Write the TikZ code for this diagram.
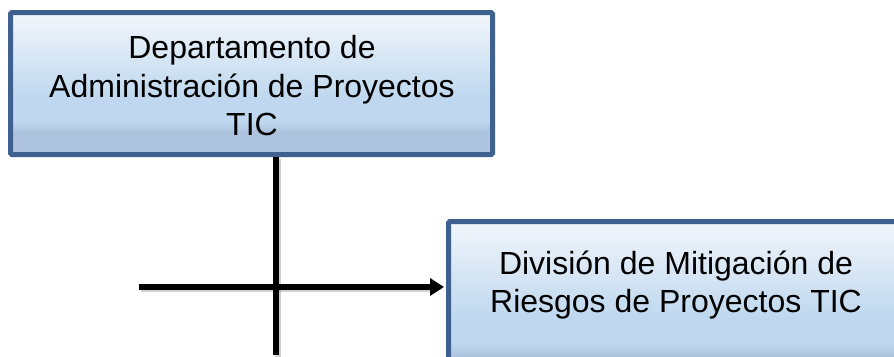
\documentclass[tikz,border=0pt]{standalone}
\usepackage{fontspec}
\setmainfont{Liberation Sans}
\usetikzlibrary{arrows.meta,shadows}
\definecolor{bordblue}{HTML}{3F6190}
\definecolor{shA}{HTML}{F2F6FB}
\definecolor{shB}{HTML}{BFD8EF}
\definecolor{shC}{HTML}{AEC4DE}
\pgfdeclareverticalshading{boxshade}{100bp}{color(0bp)=(shC); color(25bp)=(shC); color(33bp)=(shC); color(37bp)=(shB); color(45bp)=(shB); color(75bp)=(shA); color(100bp)=(shA)}
\tikzset{
  orgbox/.style={draw=bordblue, line width=5pt, rounded corners=1.5pt, shading=boxshade,
    inner sep=0pt,
    drop shadow={shadow xshift=2pt, shadow yshift=-2pt, opacity=0.25, fill=black}},
  boxtext/.style={align=center, inner sep=0pt, font=\fontsize{32pt}{38.5pt}\selectfont},
  conn/.style={line width=5.5pt, black},
  connshadow/.style={line width=5.5pt, black, opacity=0.18}
}
\begin{document}
\begin{tikzpicture}[x=1pt,y=-1pt]
\useasboundingbox (0,0) rectangle (894,356);
\node[orgbox, minimum width=482pt, minimum height=142pt] (dept) at (251.5,83.5) {};
\node[boxtext] (depttext) at (252,86) {Departamento de\\Administración de Proyectos\\TIC};
\node[orgbox, minimum width=480pt, minimum height=160pt] (div) at (688.5,301.5) {};
\node[boxtext] (divtext) at (676,285) {División de Mitigación de\\Riesgos de Proyectos TIC};
\coordinate (vtop) at (276,157);
\coordinate (vbot) at (276,355);
\coordinate (hstart) at (139,287);
\draw[connshadow] ([shift={(2,2)}]vtop) -- ([shift={(2,2)}]vbot);
\draw[connshadow] ([shift={(2,2)}]hstart) -- ([shift={(-14,2)}]hstart -| div.west);
\draw[conn] (vtop) -- (vbot);
\draw[conn, -{Triangle[length=14pt,width=17pt]}, shorten >=2pt] (hstart) -- (hstart -| div.west);
\end{tikzpicture}
\end{document}
